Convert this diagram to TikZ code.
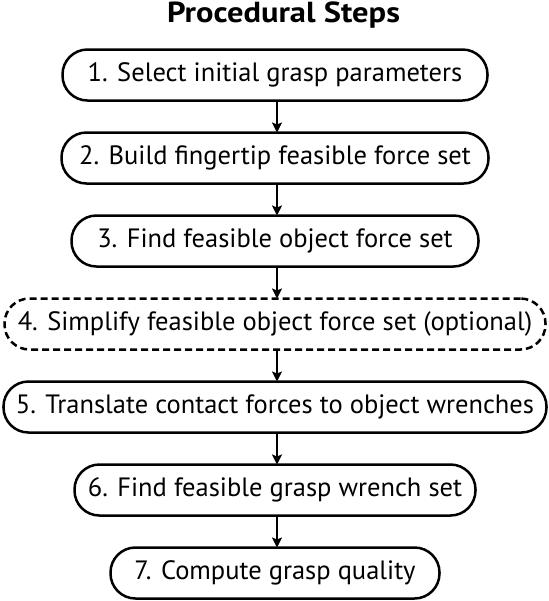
\documentclass[tikz,border=0pt]{standalone}
\usepackage{fontspec}
\setmainfont{PT Sans}
\newfontfamily\titlefont[FakeStretch=1.12]{PT Sans}
\usetikzlibrary{positioning,arrows.meta}

\begin{document}
\begin{tikzpicture}[->,>={Stealth[length=5pt,width=5pt,inset=1pt]},node distance=16pt,
    proc node/.style={draw,line width=1.25pt,outer sep=0pt,rounded corners=12.5pt,minimum height=25.5pt,inner sep=0pt,font=\fontsize{13.25}{16}\selectfont},
    opt node/.style={proc node,dash pattern=on 3.5pt off 2pt}]
            \useasboundingbox (0,0) rectangle (274pt,-300.5pt);

            \node[anchor=base,font=\titlefont\fontsize{14.5}{17}\selectfont\bfseries] (title) at (141.75pt,-11.2pt) {Procedural Steps};
            \node[proc node,minimum width=212.5pt] (1) at (137.5pt,-37.5pt) {1. Select initial grasp parameters};
            \node[proc node,minimum width=213.5pt] (2)[below=of 1] {2. Build fingertip feasible force set};
            \node[proc node,minimum width=203.5pt] (3)[below=of 2] {3. Find feasible object force set};
            \node[opt node,minimum width=270.5pt] (4)[below=of 3] {4. Simplify feasible object force set (optional)};
            \node[proc node,minimum width=271.5pt] (5)[below=of 4] {5. Translate contact forces to object wrenches};
            \node[proc node,minimum width=200.5pt] (6)[below=of 5] {6. Find feasible grasp wrench set};
            \node[proc node,minimum width=164.5pt] (7)[below=of 6] {7. Compute grasp quality};

            \path[line width=1pt,every edge/.style={draw}]
                ([xshift=1pt]1.south) edge ([xshift=1pt]2.north)
                ([xshift=1pt]2.south) edge ([xshift=1pt]3.north)
                ([xshift=1pt]3.south) edge ([xshift=1pt]4.north)
                ([xshift=1pt]4.south) edge ([xshift=1pt]5.north)
                ([xshift=1pt]5.south) edge ([xshift=1pt]6.north)
                ([xshift=1pt]6.south) edge ([xshift=1pt]7.north)
            ;
        \end{tikzpicture}
\end{document}
